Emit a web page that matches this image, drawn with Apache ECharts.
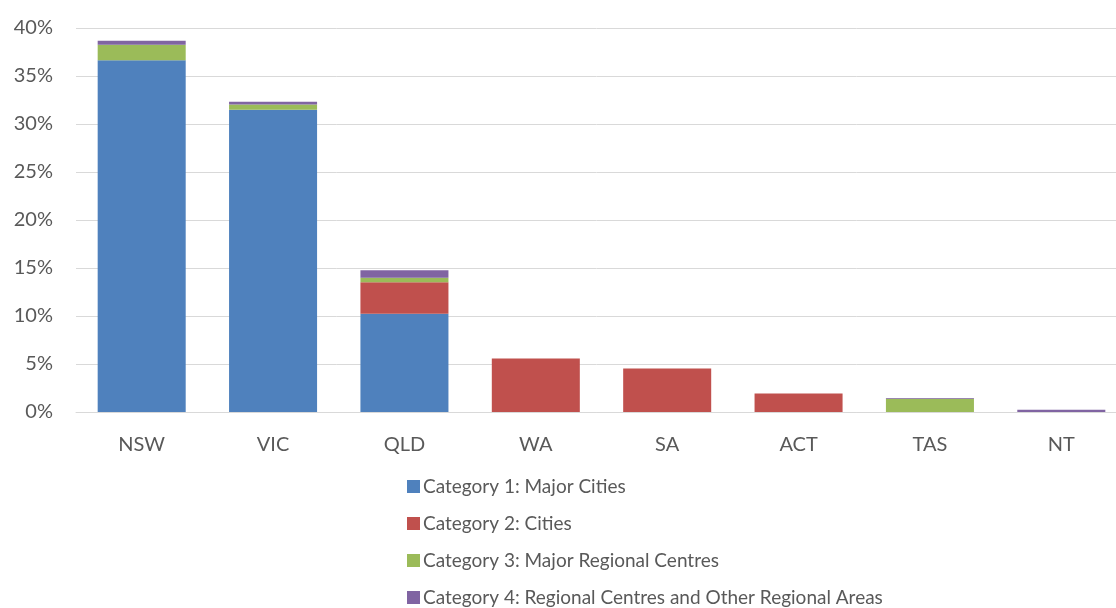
<!DOCTYPE html>
<html>
<head>
<meta charset="utf-8">
<script src="https://cdn.jsdelivr.net/npm/echarts@6/dist/echarts.min.js"></script>
<style>
html, body { margin: 0; padding: 0; background: #fff; }
#chart { width: 1116px; height: 608px; }
</style>
</head>
<body>
<div id="chart"></div>
<script>
var states = ['NSW', 'VIC', 'QLD', 'WA', 'SA', 'ACT', 'TAS', 'NT'];
var seriesNames = [
    'Category 1: Major Cities',
    'Category 2: Cities',
    'Category 3: Major Regional Centres',
    'Category 4: Regional Centres and Other Regional Areas'
];
var cat1 = [36.65, 31.48, 10.23, 0, 0, 0, 0, 0];
var cat2 = [0, 0, 3.29, 5.57, 4.53, 1.93, 0, 0];
var cat3 = [1.6, 0.55, 0.46, 0, 0, 0, 1.37, 0];
var cat4 = [0.42, 0.28, 0.79, 0, 0, 0, 0.1, 0.24];
var colors = ['#4f81bd', '#c0504d', '#9bbb59', '#8064a2'];
var yTicks = [0, 5, 10, 15, 20, 25, 30, 35, 40];

var font = 'Lato, "Open Sans", sans-serif';
var dataList = [cat1, cat2, cat3, cat4];
var series = [];
for (var i = 0; i < dataList.length; i++) {
    series.push({
        name: seriesNames[i],
        type: 'bar',
        stack: 'total',
        data: dataList[i],
        barCategoryGap: '33%',
        itemStyle: { color: colors[i] }
    });
}

var myChart = echarts.init(document.getElementById('chart'));
var option = {
    animation: false,
    textStyle: { fontFamily: font },
    grid: {
        left: 76,
        width: 1051,
        top: 28,
        bottom: 196,
        outerBoundsMode: 'none'
    },
    legend: {
        orient: 'vertical',
        left: 407,
        top: 477,
        height: 140,
        padding: 0,
        itemWidth: 13,
        itemHeight: 13,
        itemGap: 18,
        icon: 'rect',
        data: seriesNames,
        textStyle: { fontSize: 19, color: '#595959', fontFamily: font, padding: [0, 0, 0, -2] }
    },
    xAxis: {
        type: 'category',
        data: states,
        axisTick: { show: false },
        axisLine: { lineStyle: { color: '#d9d9d9', width: 1 } },
        axisLabel: { fontSize: 20, color: '#595959', margin: 23, fontFamily: font }
    },
    yAxis: {
        type: 'value',
        min: yTicks[0],
        max: yTicks[yTicks.length - 1],
        interval: 5,
        axisLine: { show: false },
        axisTick: { show: false },
        splitLine: { lineStyle: { color: '#d9d9d9', width: 1 } },
        axisLabel: {
            fontSize: 20,
            color: '#595959',
            margin: 23,
            fontFamily: font,
            formatter: function (v) { return v + '%'; }
        }
    },
    series: series
};
myChart.setOption(option, true);
</script>
</body>
</html>
